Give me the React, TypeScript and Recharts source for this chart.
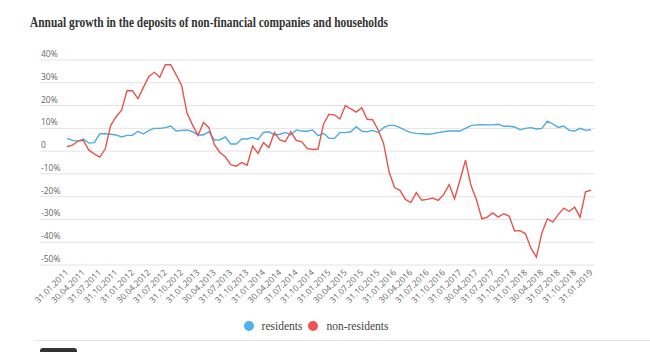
import { LineChart, Line, XAxis, YAxis, CartesianGrid } from "recharts";

// monthly, 31.01.2011 .. 31.01.2019 (annual growth, %)
const RESIDENTS = [
  5.6, 4.7, 4.4, 5.3, 3.5, 3.7, 7.6, 7.6, 7.4, 7.1, 6.2, 6.9, 6.9, 8.7, 7.5, 9.1,
  10, 10, 10.3, 11, 8.8, 9.1, 9.3, 8.5, 7.1, 7.1, 8.5, 4.9, 5, 6.2, 3.1, 3.1,
  5.3, 5.3, 6, 5.1, 8.2, 8.5, 7.1, 7.4, 8.2, 7.1, 9.3, 8.8, 8.7, 9.3, 6.8, 7.8,
  5.6, 5.6, 8.2, 8.1, 8.5, 10.7, 8.7, 8.5, 9.1, 8.2, 10.3, 11.3, 11.3, 10.3, 9.1, 8.1,
  7.8, 7.6, 7.4, 7.6, 8.1, 8.5, 8.8, 8.8, 8.8, 10, 11.2, 11.5, 11.6, 11.5, 11.5, 11.8,
  10.9, 10.9, 10.6, 9.4, 10, 10.3, 9.7, 10, 13.2, 11.9, 10.4, 11, 9.1, 8.8, 10, 9.1,
  9.4,
];

const NON_RESIDENTS = [
  1.9, 2.6, 4.4, 4.7, 0.4, -1.2, -2.6, 0.9, 11.2, 15.1, 18, 26.6, 26.5, 23, 28, 32.8,
  34.6, 32.4, 37.9, 37.9, 33.5, 28.8, 16.6, 11.5, 6.8, 12.6, 10.3, 2.9, -0.6, -2.5, -5.9, -6.6,
  -5, -6.2, 2.2, -1, 3.7, 1.6, 8.2, 4.9, 4.1, 8.5, 4.7, 4.1, 1.2, 0.7, 0.9, 11.9,
  16.2, 15.9, 14.1, 20, 18.5, 17.1, 19.1, 14, 13.8, 9.3, 3.4, -9.1, -16, -17.2, -21.2, -22.6,
  -18.2, -21.6, -21.2, -20.6, -21.6, -19.1, -14.7, -20.9, -12.8, -4, -15, -21.2, -29.7, -29, -27.1, -29,
  -27.5, -28.5, -35.1, -34.9, -36.3, -42.6, -46.6, -35.9, -29.7, -31.2, -27.9, -25, -26.5, -24.6, -29, -17.9,
  -17.2,
];

const Y_TICKS = [-50, -40, -30, -20, -10, 0, 10, 20, 30, 40];

const BLUE = "#4eaadf";
const RED = "#e4564c";
const MUTED = "#666";

// month-end dates as dd.mm.yyyy
function monthEnd(i: number) {
  const y = 2011 + Math.floor(i / 12);
  const m = i % 12;
  const d = new Date(Date.UTC(y, m + 1, 0)).getUTCDate();
  return `${String(d).padStart(2, "0")}.${String(m + 1).padStart(2, "0")}.${y}`;
}

const data = RESIDENTS.map((r, i) => ({
  date: monthEnd(i),
  residents: r,
  nonResidents: NON_RESIDENTS[i],
}));

function YTick({ x, y, payload }: any) {
  const v = payload.value;
  return (
    <text x={x + 1} y={y - 3} fill={MUTED} fontSize={8.5} fontFamily="'Open Sans', sans-serif">
      {v === 0 ? "0" : `${v}%`}
    </text>
  );
}

function XTick({ x, y, payload }: any) {
  return (
    <g transform={`translate(${x},${y + 4})`}>
      <text
        textAnchor="end"
        dy={3}
        transform="rotate(-45)"
        fill={MUTED}
        fontSize={8.5}
        fontFamily="'Open Sans', sans-serif"
      >
        {payload.value}
      </text>
    </g>
  );
}

function LegendItem({ color, label }: { color: string; label: string }) {
  return (
    <span style={{ display: "inline-flex", alignItems: "center", marginRight: 6 }}>
      <span style={{ width: 10, height: 10, borderRadius: 5, background: color, marginRight: 8 }} />
      {label}
    </span>
  );
}

export default function App() {
  return (
    <div style={{ position: "absolute", left: 0, top: 0, width: 650, height: 352, background: "#fff", overflow: "hidden" }}>
      <svg width={650} height={40} style={{ position: "absolute", left: 0, top: 0 }}>
        <text
          x={30}
          y={27}
          fontFamily="'Liberation Serif', serif"
          fontWeight="bold"
          fontSize={14.5}
          fill="#333"
          textLength={358}
          lengthAdjust="spacingAndGlyphs"
        >
          Annual growth in the deposits of non-financial companies and households
        </text>
      </svg>

      <div style={{ position: "absolute", left: 0, top: 0 }}>
        <LineChart width={650} height={315} data={data} margin={{ top: 60, right: 55, bottom: 0, left: 39 }}>
          <CartesianGrid vertical={false} stroke="#e3e3e3" />
          <XAxis
            dataKey="date"
            interval={2}
            tickLine={false}
            axisLine={false}
            tickSize={0}
            height={50}
            padding={{ left: 27, right: 4 }}
            tick={<XTick />}
          />
          <YAxis
            width={1}
            domain={[-50, 40]}
            ticks={Y_TICKS}
            interval={0}
            tickLine={false}
            axisLine={false}
            tickSize={0}
            tickMargin={0}
            tick={<YTick />}
          />
          <Line dataKey="residents" stroke={BLUE} strokeWidth={1.4} dot={false} isAnimationActive={false} />
          <Line dataKey="nonResidents" stroke={RED} strokeWidth={1.4} dot={false} isAnimationActive={false} />
        </LineChart>
      </div>

      <div
        style={{
          position: "absolute",
          top: 320,
          left: 0,
          width: 638,
          fontFamily: "'Liberation Serif', serif",
          fontSize: 11.5,
          color: "#444",
          display: "flex",
          justifyContent: "center",
        }}
      >
        <LegendItem color="#4db3ee" label="residents" />
        <LegendItem color="#ef5550" label="non-residents" />
      </div>

      <div style={{ position: "absolute", top: 340, left: 36, right: 0, height: 1, background: "#e2e2e2" }} />
      <div style={{ position: "absolute", top: 348, left: 40, width: 37, height: 12, background: "#333", borderRadius: 3 }} />
    </div>
  );
}
